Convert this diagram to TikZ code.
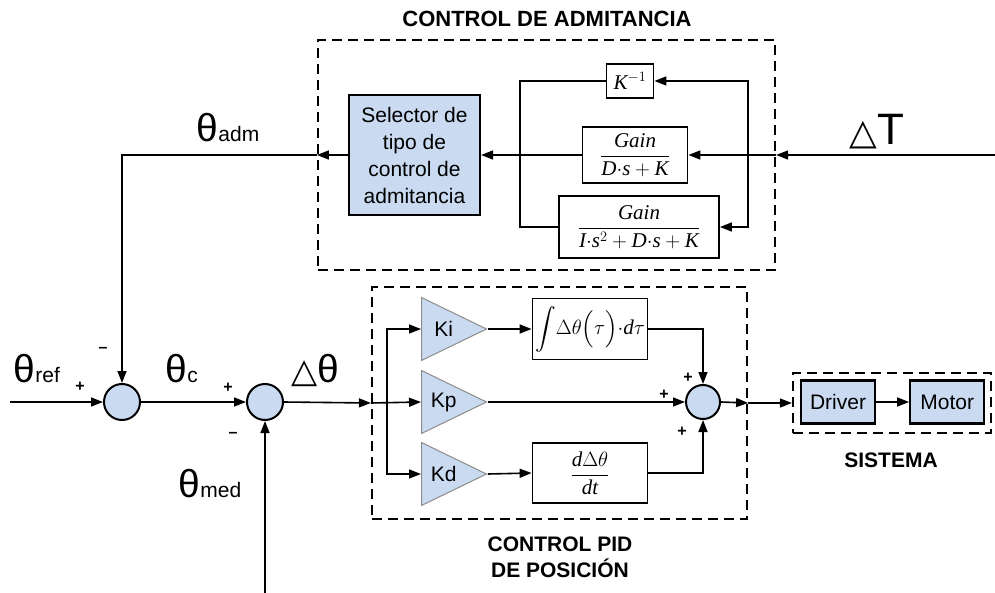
\documentclass[tikz,border=0pt]{standalone}
\usepackage{amsmath}
\usepackage{fontspec}
\setmainfont{Liberation Sans}
\newfontfamily\tms{Liberation Serif}
\newfontfamily\djv{DejaVu Sans}
\usetikzlibrary{shapes.geometric,arrows.meta,positioning,calc}
\definecolor{blockblue}{RGB}{201,218,241}
\newcommand{\mi}[1]{\mbox{\tms\itshape #1}}
\newcommand{\sig}[1]{{\fontsize{21bp}{21bp}\selectfont #1}}
\newcommand{\dt}{{\cdot}}

\begin{document}
\begin{tikzpicture}[x=1bp,y=-1bp,line width=1.6bp]
	%defines
	\tikzstyle{sumnode} = [circle, draw=black, fill=blockblue, line width=2bp, minimum size=36bp, inner sep=0]
	\tikzstyle{block} = [rectangle, draw=black, line width=1.8bp, fill=white, inner sep=0, align=center, font=\fontsize{21bp}{25bp}\selectfont]
	\tikzstyle{blueblock} = [block, fill=blockblue, line width=2.2bp, font=\fontsize{21bp}{27bp}\selectfont]
	\tikzstyle{gainamp} = [isosceles triangle, isosceles triangle stretches, shape border rotate=0, draw=black!45, line width=1bp, fill=blockblue, minimum width=63bp, minimum height=65bp, inner sep=0, anchor=west]
	\tikzstyle{gaintext} = [font=\fontsize{21bp}{21bp}\selectfont, inner sep=0]
	\tikzstyle{dashbox} = [rectangle, draw=black, dash pattern=on 10bp off 6bp, line width=2.2bp, inner sep=0]
	\tikzstyle{boxtitle} = [font=\bfseries\fontsize{21bp}{26bp}\selectfont, align=center, inner sep=0]
	\tikzstyle{signal} = [font=\fontsize{39bp}{40bp}\selectfont, anchor=base west, inner sep=0]
	\tikzstyle{pm} = [font=\bfseries\fontsize{16bp}{16bp}\selectfont, inner sep=0]
	\tikzstyle{arrow} = [-{Triangle[length=12bp,width=9bp]}]
	\useasboundingbox (0,0) rectangle (995,593);
	%admittance loop
	\node (admbox) [dashbox, minimum width=457bp, minimum height=230bp] at (546.5,155) {};
	\node (selector) [blueblock, minimum width=131bp, minimum height=120bp] at (414.5,155) {Selector de\\tipo de\\control de\\admitancia};
	\node (kinv) [block, minimum width=47bp, minimum height=34bp] at (630,81) {$\mi{K}^{-1}$};
	\node (gdk) [block, minimum width=105bp, minimum height=56bp] at (635,155) {$\dfrac{\mi{Gain}}{\mi{D}\dt\mi{s}+\mi{K}}$};
	\node (gidk) [block, minimum width=160bp, minimum height=62bp] at (639,227) {$\dfrac{\mi{Gain}}{\mi{I}\dt\mi{s}^{2}+\mi{D}\dt\mi{s}+\mi{K}}$};
	\coordinate (rbus) at (748,155);
	\coordinate (lbus) at (520,155);
	\coordinate (inT) at (995,155);
	%summing points
	\node (sumref) [sumnode] at (122,402) {};
	\node (sumc) [sumnode] at (265,402) {};
	\coordinate (inref) at (10,402);
	\coordinate (inmed) at (265,593);
	%pid
	\node (pidbox) [dashbox, minimum width=375bp, minimum height=232bp] at (559.5,403) {};
	\coordinate (split) at (387,402);
	\node (ki) [gainamp] at (421,329) {};
	\node (kp) [gainamp] at (421,402) {};
	\node (kd) [gainamp] at (421,474) {};
	\node [gaintext] at ($(ki.west)!0.34!(ki.east)$) {Ki};
	\node [gaintext] at ($(kp.west)!0.34!(kp.east)$) {Kp};
	\node [gaintext] at ($(kd.west)!0.34!(kd.east)$) {Kd};
	\node (integ) [block, minimum width=115bp, minimum height=61bp] at (590,329) {$\displaystyle\int\!\Delta\theta\Bigl(\tau\Bigr)\dt\mi{d}\tau$};
	\node (deriv) [block, minimum width=115bp, minimum height=60bp] at (590,473) {$\dfrac{\mi{d}\Delta\theta}{\mi{dt}}$};
	\node (sumpid) [sumnode, minimum size=34bp] at (703,402) {};
	%plant
	\node (sysbox) [dashbox, minimum width=198bp, minimum height=60bp] at (892,403) {};
	\node (driver) [blueblock, minimum width=74bp, minimum height=43bp] at (838,402) {Driver};
	\node (motor) [blueblock, right=33bp of driver, minimum width=74bp, minimum height=43bp] {Motor};
	%titles
	\node (admtitle) [boxtitle, font=\bfseries\fontsize{22bp}{26bp}\selectfont] at (547,19) {CONTROL DE ADMITANCIA};
	\node (pidtitle) [boxtitle] at (560,557) {CONTROL PID\\DE POSICIÓN};
	\node (systitle) [boxtitle] at (891,460) {SISTEMA};
	%signals
	\node (thref) [signal] at (13,382) {θ\sig{ref}};
	\node (thc) [signal] at (165,382) {θ\sig{c}};
	\node (dth) [signal] at (291,382) {{\djv\fontsize{34bp}{34bp}\selectfont △}θ};
	\node (thmed) [signal] at (178,497) {θ\sig{med}};
	\node (thadm) [signal] at (196,142) {θ\sig{adm}};
	\node (dT) [signal, font=\fontsize{44bp}{44bp}\selectfont] at (849,145) {{\djv\fontsize{36bp}{36bp}\selectfont △}T};
	\node [pm] at (80,387) {+};
	\node [pm] at (103,350) {–};
	\node [pm] at (228,388) {+};
	\node [pm] at (233,435) {–};
	\node [pm] at (688,378) {+};
	\node [pm] at (664,395) {+};
	\node [pm] at (682,432) {+};
	%connections
	\draw [arrow] (inT) -- (admbox.east);
	\draw [arrow] (admbox.east) -- (gdk.east);
	\draw [arrow] (rbus) |- (kinv.east);
	\draw [arrow] (rbus) |- (gidk.east);
	\draw (kinv.west) -| (lbus) |- (gidk.west);
	\draw [arrow] (gdk.west) -- (selector.east);
	\draw [arrow] (selector.west) -- (admbox.west);
	\draw [arrow] (admbox.west) -| (sumref.north);
	\draw [arrow] (inref) -- (sumref.west);
	\draw [arrow] (sumref.east) -- (sumc.west);
	\draw [arrow] (inmed) -- (sumc.south);
	\draw [arrow] (sumc.east) -- (pidbox.west);
	\draw [arrow] (pidbox.west) -- (kp.west);
	\draw [arrow] (split) |- (ki.west);
	\draw [arrow] (split) |- (kd.west);
	\draw [arrow] (ki.east) -- (integ.west);
	\draw [arrow] (kd.east) -- (deriv.west);
	\draw [arrow] (kp.east) -- (sumpid.west);
	\draw [arrow] (integ.east) -| (sumpid.north);
	\draw [arrow] (deriv.east) -| (sumpid.south);
	\draw [arrow] (sumpid.east) -- (pidbox.east);
	\draw [arrow] (pidbox.east) -- (sysbox.west);
	\draw [arrow] (driver) -- (motor);
\end{tikzpicture}
\end{document}
